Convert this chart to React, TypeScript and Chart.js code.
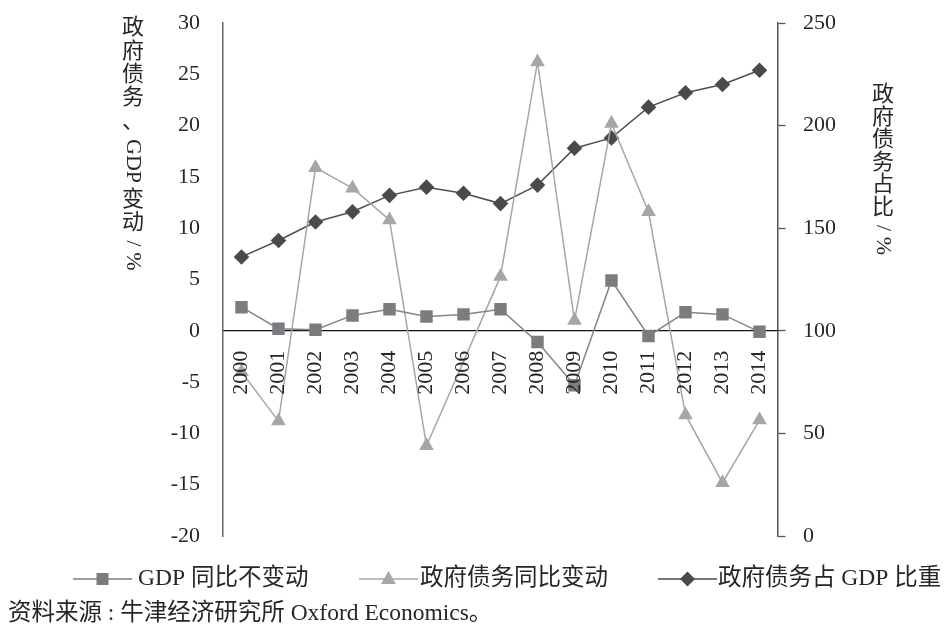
import { useEffect, useRef } from 'react';
import { Chart, registerables } from 'chart.js';

Chart.register(...registerables);

// Years on the category axis
const years = ['2000', '2001', '2002', '2003', '2004', '2005', '2006', '2007', '2008', '2009', '2010', '2011', '2012', '2013', '2014'];

// GDP year-on-year change, %
const gdpChange = [2.3, 0.2, 0.1, 1.5, 2.1, 1.4, 1.6, 2.1, -1.1, -5.3, 4.9, -0.5, 1.8, 1.6, -0.1];

// Government debt year-on-year change, %
const debtChange = [-4.0, -8.8, 15.9, 13.9, 10.8, -11.2, -3.0, 5.3, 26.2, 1.0, 20.2, 11.6, -8.2, -14.8, -8.7];

// Government debt as share of GDP, % (right axis)
const debtRatio = [136, 144, 153, 158, 166, 170, 167, 162, 171, 189, 194, 209, 216, 220, 227];

// Axis ranges
const leftMin = -20;
const leftMax = 30;
const leftStep = 5;
const rightMin = 0;
const rightMax = 250;
const rightStep = 50;

// Texts
const leftTitle = [
  { t: '政府债务、' },
  { t: ' GDP ', rot: true },
  { t: '变动' },
  { t: ' / %', rot: true },
];
const rightTitle = [{ t: '政府债务占比' }, { t: ' / %', rot: true }];
const legendLabels = ['GDP 同比不变动', '政府债务同比变动', '政府债务占 GDP 比重'];
const sourceNote = '资料来源 : 牛津经济研究所 Oxford Economics。';

const SERIF = "'Liberation Serif', 'Times New Roman', serif";
const MIXED = "'Liberation Serif', 'Noto Sans CJK SC', serif";
const TEXT = '#262626';

const C_GDP = '#7b7c80';
const C_DEBT = '#a6a6a6';
const C_RATIO = '#4a4a4a';

type Part = { t: string; rot?: boolean };

function drawVertical(ctx: CanvasRenderingContext2D, parts: Part[], x: number, y: number, pitch: number, font: string) {
  ctx.save();
  ctx.font = font;
  ctx.fillStyle = TEXT;
  let cy = y;
  for (const p of parts) {
    if (p.rot) {
      const w = ctx.measureText(p.t).width;
      ctx.save();
      ctx.translate(x, cy);
      ctx.rotate(Math.PI / 2);
      ctx.textAlign = 'left';
      ctx.textBaseline = 'middle';
      ctx.fillText(p.t, 0, 0);
      ctx.restore();
      cy += w;
    } else {
      for (const ch of p.t) {
        ctx.textAlign = 'center';
        ctx.textBaseline = 'middle';
        ctx.fillText(ch, x, cy + pitch / 2);
        cy += pitch;
      }
    }
  }
  ctx.restore();
}

function drawMarker(ctx: CanvasRenderingContext2D, kind: string, x: number, y: number, color: string) {
  ctx.save();
  ctx.fillStyle = color;
  ctx.beginPath();
  if (kind === 'rect') {
    ctx.rect(x - 6, y - 6, 12, 12);
  } else if (kind === 'triangle') {
    ctx.moveTo(x, y - 8);
    ctx.lineTo(x + 7.4, y + 5);
    ctx.lineTo(x - 7.4, y + 5);
    ctx.closePath();
  } else {
    ctx.moveTo(x, y - 7.5);
    ctx.lineTo(x + 7.5, y);
    ctx.lineTo(x, y + 7.5);
    ctx.lineTo(x - 7.5, y);
    ctx.closePath();
  }
  ctx.fill();
  ctx.restore();
}

const decorations = {
  id: 'decorations',
  afterDraw(chart: Chart) {
    const ctx = chart.ctx;
    drawVertical(ctx, leftTitle, 133, 17, 23.3, `22px ${MIXED}`);
    drawVertical(ctx, rightTitle, 883, 84, 22.6, `22px ${MIXED}`);

    // legend: line + marker + label
    const ly = 579;
    const items = [
      { x0: 73, x1: 132, kind: 'rect', color: C_GDP, tx: 138 },
      { x0: 359, x1: 418, kind: 'triangle', color: C_DEBT, tx: 420 },
      { x0: 658, x1: 717, kind: 'diamond', color: C_RATIO, tx: 718 },
    ];
    items.forEach((it, i) => {
      ctx.save();
      ctx.strokeStyle = it.color;
      ctx.lineWidth = 1.5;
      ctx.beginPath();
      ctx.moveTo(it.x0, ly);
      ctx.lineTo(it.x1, ly);
      ctx.stroke();
      ctx.restore();
      drawMarker(ctx, it.kind, (it.x0 + it.x1) / 2, ly, it.color);
      ctx.save();
      ctx.font = `23.5px ${MIXED}`;
      ctx.fillStyle = TEXT;
      ctx.textAlign = 'left';
      ctx.textBaseline = 'middle';
      ctx.fillText(legendLabels[i], it.tx, ly);
      ctx.restore();
    });

    ctx.save();
    ctx.font = `23.5px ${MIXED}`;
    ctx.fillStyle = TEXT;
    ctx.textAlign = 'left';
    ctx.textBaseline = 'middle';
    ctx.fillText(sourceNote, 8, 614);
    ctx.restore();
  },
};

export default function App() {
  const canvasRef = useRef<HTMLCanvasElement | null>(null);

  useEffect(() => {
    document.body.style.margin = '0';
    const canvas = canvasRef.current;
    if (!canvas) return;
    const chart = new Chart(canvas, {
      type: 'line',
      data: {
        labels: years,
        datasets: [
          {
            label: legendLabels[0],
            data: gdpChange,
            yAxisID: 'y',
            borderColor: '#858585',
            backgroundColor: C_GDP,
            borderWidth: 1.5,
            pointStyle: 'rect',
            pointRadius: 8.8,
            pointBorderWidth: 0,
            pointBackgroundColor: C_GDP,
          },
          {
            label: legendLabels[1],
            data: debtChange,
            yAxisID: 'y',
            borderColor: C_DEBT,
            backgroundColor: C_DEBT,
            borderWidth: 1.5,
            pointStyle: 'triangle',
            pointRadius: years.map((y) => (y === '2006' ? 0 : 8.5)),
            pointBorderWidth: 0,
            pointBackgroundColor: C_DEBT,
          },
          {
            label: legendLabels[2],
            data: debtRatio,
            yAxisID: 'y1',
            borderColor: '#4f4f4f',
            backgroundColor: C_RATIO,
            borderWidth: 1.5,
            pointStyle: 'rectRot',
            pointRadius: 7.8,
            pointBorderWidth: 0,
            pointBackgroundColor: C_RATIO,
          },
        ],
      },
      options: {
        animation: false,
        responsive: true,
        maintainAspectRatio: false,
        events: [],
        layout: { padding: { top: 23, bottom: 95, left: 0, right: 0 } },
        plugins: {
          legend: { display: false },
          tooltip: { enabled: false },
        },
        scales: {
          x: {
            type: 'category',
            offset: true,
            position: { y: 0 },
            grid: { display: false, drawTicks: false },
            border: { display: true, color: '#111', width: 1.3 },
            ticks: {
              z: 1,
              minRotation: 90,
              maxRotation: 90,
              autoSkip: false,
              padding: 20,
              color: TEXT,
              font: { family: SERIF, size: 22 },
            },
          },
          y: {
            position: 'left',
            min: leftMin,
            max: leftMax,
            afterFit: (s: any) => {
              s.width = 223;
            },
            // invisible tick marks keep the labels clear of the axis line
            grid: { display: true, drawOnChartArea: false, drawTicks: true, tickLength: 23, tickColor: 'rgba(0,0,0,0)' },
            border: { display: true, color: '#666', width: 1.5 },
            ticks: {
              stepSize: leftStep,
              padding: 0,
              color: TEXT,
              font: { family: SERIF, size: 22 },
            },
          },
          y1: {
            position: 'right',
            min: rightMin,
            max: rightMax,
            afterFit: (s: any) => {
              s.width = 167;
            },
            // short visible tick stub, rest of the tick length is gap before the labels
            grid: {
              display: true,
              drawOnChartArea: false,
              drawTicks: true,
              tickLength: 25,
              tickColor: '#555',
              tickWidth: 1.3,
              tickBorderDash: [7, 60],
            },
            border: { display: true, color: '#555', width: 1.5 },
            ticks: {
              stepSize: rightStep,
              padding: 0,
              color: TEXT,
              font: { family: SERIF, size: 22 },
            },
          },
        },
      },
      plugins: [decorations],
    });
    return () => chart.destroy();
  }, []);

  return (
    <div style={{ width: 945, height: 631, position: 'relative' }}>
      <canvas ref={canvasRef} />
    </div>
  );
}
